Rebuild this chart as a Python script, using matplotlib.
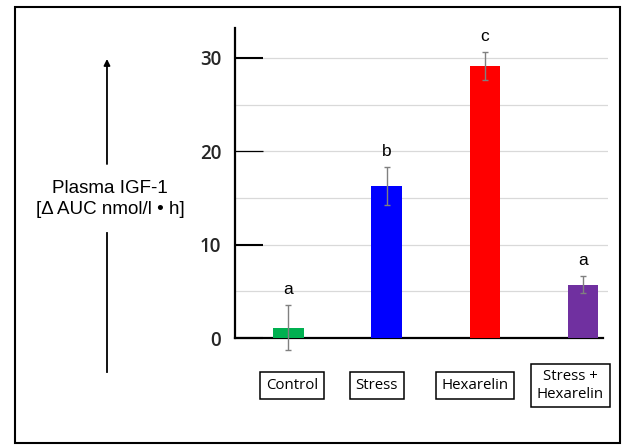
import matplotlib.pyplot as plt
from matplotlib.patches import Rectangle

groups = ['Control', 'Stress', 'Hexarelin', 'Stress +\nHexarelin']
igf1 = [1.1, 16.3, 29.1, 5.7]
sem = [2.4, 2.0, 1.5, 0.9]
letters = ['a', 'b', 'c', 'a']
colors = ['#00b050', '#0000ff', '#ff0000', '#7030a0']
yticks = [0, 10, 20, 30]

fig = plt.figure(figsize=(6.22, 4.46), dpi=100)
ax = fig.add_axes([0.378, 0.242, 0.600, 0.695])

x = list(range(len(groups)))
ax.bar(x, igf1, width=0.31, color=colors, zorder=3)
ax.errorbar(x, igf1, yerr=sem, fmt='none', ecolor='#808080', elinewidth=1,
            capsize=2.5, capthick=1, zorder=4, clip_on=False)

# significance letters
for xi, v, e, s in zip(x, igf1, sem, letters):
    ax.text(xi, v + e + 1.7, s, ha='center', va='center', fontsize=12.5,
            family='Liberation Sans')

ax.set_xlim(-0.541, 3.255)
ax.set_ylim(0, 33.2)

# light grid every 5
for g in range(5, 35, 5):
    ax.axhline(g, color='#d9d9d9', lw=0.9, zorder=1)

for s in ['top', 'right']:
    ax.spines[s].set_visible(False)
ax.spines['left'].set_linewidth(1.6)
ax.spines['bottom'].set_linewidth(1.6)
ax.spines['bottom'].set_bounds(-0.541, 3.2)

ax.set_xticks([])
ax.set_yticks(yticks)
ax.tick_params(axis='y', direction='in', length=20, width=1.5, pad=10,
               labelsize=13.5, labelcolor='#262626')
for lab in ax.get_yticklabels():
    lab.set_family('Open Sans')
    lab.set_fontweight('semibold')
ax.yaxis.get_major_ticks()[2].tick1line.set_markeredgewidth(0.9)

# category labels in boxes
label_x = [0.04, 0.90, 1.90, 2.87]
for lx, g in zip(label_x, groups):
    ax.text(lx, -0.153, g, transform=ax.get_xaxis_transform(), ha='center',
            va='center', fontsize=10.8, family='Open Sans', linespacing=1.2,
            bbox=dict(boxstyle='square,pad=0.38', fc='white', ec='black', lw=1.1))

# y label with arrow
fig.text(0.177, 0.554, 'Plasma IGF-1\n[Δ AUC nmol/l • h]', ha='center', va='center',
         fontsize=13.5, family='Liberation Sans', linespacing=1.25)
fig.add_artist(plt.Line2D([0.172, 0.172], [0.166, 0.478], color='black', lw=1.3,
                          transform=fig.transFigure))
ax.annotate('', xy=(0.172, 0.874), xytext=(0.172, 0.626), xycoords='figure fraction',
            textcoords='figure fraction',
            arrowprops=dict(arrowstyle='-|>', color='black', lw=1.3, mutation_scale=9))

# outer frame
fig.add_artist(Rectangle((0.024, 0.007), 0.973, 0.978, transform=fig.transFigure,
                         fill=False, ec='black', lw=1.5))

fig.savefig('out.png', dpi=100)
